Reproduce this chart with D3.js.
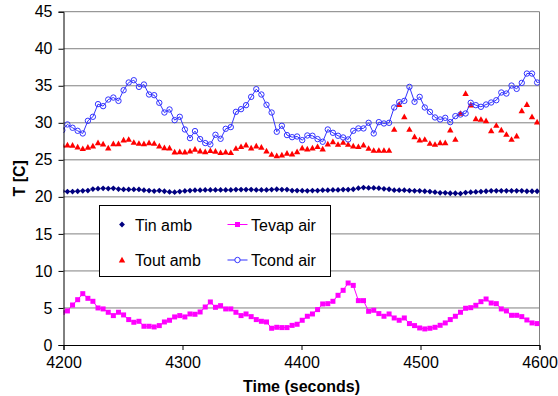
<!DOCTYPE html>
<html>
<head>
<meta charset="utf-8">
<script src="https://cdn.jsdelivr.net/npm/d3@7"></script>
<style>
  body { margin: 0; background: #fff; }
  text { font-family: "Liberation Sans", Arial, sans-serif; }
</style>
</head>
<body>
<div id="chart"></div>
<script>
// sample times (s), shared by all four series
var time = [
  4199.0, 4203.3, 4207.6, 4211.9, 4216.2, 4220.5, 4224.7, 4229.0, 4233.3, 4237.6,
  4241.9, 4246.2, 4250.5, 4254.8, 4259.1, 4263.4, 4267.6, 4271.9, 4276.2, 4280.5,
  4284.8, 4289.1, 4293.4, 4297.7, 4302.0, 4306.3, 4310.5, 4314.8, 4319.1, 4323.4,
  4327.7, 4332.0, 4336.3, 4340.6, 4344.9, 4349.2, 4353.4, 4357.7, 4362.0, 4366.3,
  4370.6, 4374.9, 4379.2, 4383.5, 4387.8, 4392.1, 4396.3, 4400.6, 4404.9, 4409.2,
  4413.5, 4417.8, 4422.1, 4426.4, 4430.7, 4435.0, 4439.2, 4443.5, 4447.8, 4452.1,
  4456.4, 4460.7, 4465.0, 4469.3, 4473.6, 4477.9, 4482.1, 4486.4, 4490.7, 4495.0,
  4499.3, 4503.6, 4507.9, 4512.2, 4516.5, 4520.8, 4525.0, 4529.3, 4533.6, 4537.9,
  4542.2, 4546.5, 4550.8, 4555.1, 4559.4, 4563.7, 4567.9, 4572.2, 4576.5, 4580.8,
  4585.1, 4589.4, 4593.7, 4598.0, 4602.3
];

var tinAmb = [
  20.75, 20.72, 20.72, 20.76, 20.81, 20.85, 21.05, 21.10, 21.15, 21.12,
  21.15, 21.05, 21.00, 21.00, 21.00, 21.00, 20.90, 20.85, 20.78, 20.85,
  20.76, 20.67, 20.63, 20.72, 20.80, 20.85, 20.90, 20.90, 20.94, 20.94,
  20.94, 20.94, 20.94, 20.94, 20.99, 20.99, 20.99, 20.99, 20.94, 20.94,
  20.94, 20.99, 21.03, 20.99, 20.99, 20.85, 20.85, 20.83, 20.81, 20.85,
  20.85, 20.90, 20.90, 20.94, 20.94, 20.99, 20.99, 21.03, 21.17, 21.26,
  21.21, 21.21, 21.17, 21.08, 21.03, 20.90, 20.90, 20.90, 20.85, 20.81,
  20.81, 20.76, 20.72, 20.63, 20.54, 20.54, 20.49, 20.49, 20.45, 20.58,
  20.63, 20.67, 20.72, 20.76, 20.81, 20.81, 20.81, 20.81, 20.81, 20.81,
  20.81, 20.76, 20.76, 20.76, 20.76
];

var toutAmb = [
  27.00, 26.99, 26.95, 26.72, 26.50, 26.68, 26.86, 27.30, 27.12, 26.59,
  27.17, 27.17, 27.66, 27.75, 27.35, 27.21, 27.17, 27.30, 27.21, 26.86,
  26.63, 26.59, 26.05, 26.09, 26.05, 26.18, 26.41, 26.18, 26.09, 26.23,
  26.14, 25.96, 26.05, 25.96, 26.54, 26.77, 26.99, 26.59, 26.86, 26.68,
  26.18, 25.73, 25.55, 25.64, 25.87, 25.78, 26.09, 26.59, 26.45, 26.59,
  26.77, 26.45, 27.12, 27.44, 27.08, 27.35, 27.08, 26.86, 26.77, 26.99,
  26.54, 26.27, 26.27, 26.27, 26.27, 29.10, 32.47, 30.81, 29.10, 28.11,
  27.66, 27.75, 27.21, 27.08, 27.30, 27.30, 29.01, 27.75, 31.26, 33.95,
  32.38, 30.54, 30.45, 30.27, 28.92, 29.64, 29.01, 28.43, 27.75, 28.20,
  31.62, 32.47, 30.81, 30.09, 30.00
];

var tevapAir = [
  4.40, 4.60, 5.40, 6.12, 6.93, 6.30, 5.90, 5.00, 4.87, 4.42,
  3.97, 4.42, 4.06, 3.43, 3.07, 3.20, 2.53, 2.53, 2.44, 2.62,
  3.11, 3.34, 3.79, 3.97, 3.79, 4.19, 4.15, 4.46, 5.13, 5.81,
  5.09, 5.31, 4.87, 4.87, 4.42, 3.97, 4.19, 3.83, 3.43, 3.20,
  3.11, 2.26, 2.39, 2.35, 2.35, 2.65, 2.80, 3.34, 3.88, 4.19,
  4.78, 5.54, 5.58, 5.90, 6.71, 7.38, 8.37, 8.05, 5.99, 5.99,
  4.55, 4.69, 4.24, 3.88, 4.19, 3.65, 3.34, 3.65, 2.89, 2.62,
  2.30, 2.17, 2.26, 2.39, 2.66, 2.98, 3.43, 3.88, 4.42, 4.96,
  5.04, 5.36, 5.85, 6.21, 5.67, 5.58, 4.87, 4.60, 4.01, 4.01,
  3.83, 3.38, 2.98, 2.89, 2.60
];

var tcondAir = [
  29.00, 29.78, 29.33, 28.92, 28.56, 30.27, 30.81, 32.52, 32.25, 33.14,
  33.41, 32.96, 34.40, 35.44, 35.75, 34.85, 35.17, 33.82, 33.73, 32.70,
  31.39, 31.80, 30.36, 30.81, 29.10, 27.93, 28.88, 27.80, 27.26, 27.08,
  28.38, 27.84, 29.19, 29.42, 31.48, 31.84, 32.38, 33.50, 34.54, 33.82,
  32.43, 31.39, 28.79, 29.60, 28.34, 28.06, 28.15, 27.66, 28.29, 28.25,
  27.80, 27.44, 29.10, 28.65, 28.25, 28.02, 27.75, 28.92, 29.24, 29.24,
  30.00, 28.56, 30.09, 29.91, 30.00, 32.07, 32.79, 32.96, 34.85, 32.83,
  33.50, 32.07, 31.48, 30.72, 30.45, 30.67, 30.09, 30.90, 31.12, 31.26,
  32.70, 32.38, 32.16, 32.47, 32.74, 33.05, 34.09, 33.95, 35.03, 34.58,
  35.39, 36.65, 36.65, 35.44, 35.60
];

var xTicks = [4200, 4300, 4400, 4500, 4600];
var yTicks = [0, 5, 10, 15, 20, 25, 30, 35, 40, 45];

var W = 558, H = 396;
var plotL = 63.5, plotR = 539.5, plotT = 11.7, plotB = 345;

var svg = d3.select("#chart").append("svg")
    .attr("width", W)
    .attr("height", H);

svg.append("rect").attr("width", W).attr("height", H).attr("fill", "#fff");

var x = d3.scaleLinear().domain([4200, 4600]).range([plotL, plotR]);
var y = d3.scaleLinear().domain([0, 45]).range([plotB, plotT]);

svg.append("clipPath").attr("id", "plotclip")
  .append("rect")
    .attr("x", plotL).attr("y", plotT)
    .attr("width", plotR - plotL).attr("height", plotB - plotT);

// gridlines
svg.append("g")
  .selectAll("line")
  .data(yTicks.slice(1))
  .enter().append("line")
    .attr("x1", plotL).attr("x2", plotR)
    .attr("y1", function(d) { return y(d); })
    .attr("y2", function(d) { return y(d); })
    .attr("stroke", "#808080")
    .attr("stroke-width", 1);

// right border of plot area
svg.append("line")
  .attr("x1", plotR).attr("x2", plotR)
  .attr("y1", plotT).attr("y2", plotB)
  .attr("stroke", "#808080");

var plot = svg.append("g").attr("clip-path", "url(#plotclip)");

function pts(vals) {
  return vals.map(function(v, i) { return [time[i], v]; });
}

var line = d3.line()
  .x(function(d) { return x(d[0]); })
  .y(function(d) { return y(d[1]); });

var diamond = "M0,-2.9L2.9,0L0,2.9L-2.9,0Z";
var triangle = "M0,-3.3L3.2,2.4L-3.2,2.4Z";

// Tin amb
plot.append("g").selectAll("path")
  .data(pts(tinAmb))
  .enter().append("path")
    .attr("d", diamond)
    .attr("transform", function(d) { return "translate(" + x(d[0]) + "," + y(d[1]) + ")"; })
    .attr("fill", "#000080");

// Tout amb
plot.append("g").selectAll("path")
  .data(pts(toutAmb))
  .enter().append("path")
    .attr("d", triangle)
    .attr("transform", function(d) { return "translate(" + x(d[0]) + "," + y(d[1]) + ")"; })
    .attr("fill", "#ff0000");

// Tevap air
plot.append("path")
  .datum(pts(tevapAir))
  .attr("d", line)
  .attr("fill", "none")
  .attr("stroke", "#ff00ff")
  .attr("stroke-width", 1);

plot.append("g").selectAll("rect")
  .data(pts(tevapAir))
  .enter().append("rect")
    .attr("x", function(d) { return x(d[0]) - 2.5; })
    .attr("y", function(d) { return y(d[1]) - 2.5; })
    .attr("width", 5).attr("height", 5)
    .attr("fill", "#ff00ff");

// Tcond air
plot.append("path")
  .datum(pts(tcondAir))
  .attr("d", line)
  .attr("fill", "none")
  .attr("stroke", "#3333ff")
  .attr("stroke-width", 1);

plot.append("g").selectAll("circle")
  .data(pts(tcondAir))
  .enter().append("circle")
    .attr("cx", function(d) { return x(d[0]); })
    .attr("cy", function(d) { return y(d[1]); })
    .attr("r", 2.7)
    .attr("fill", "none")
    .attr("stroke", "#3333ff")
    .attr("stroke-width", 1);

// axes
var xAxis = svg.append("g")
  .attr("transform", "translate(0," + plotB + ")")
  .call(d3.axisBottom(x).tickValues(xTicks).tickSize(5).tickPadding(7).tickFormat(d3.format("d")));

var yAxis = svg.append("g")
  .attr("transform", "translate(" + plotL + ",0)")
  .call(d3.axisLeft(y).tickValues(yTicks).tickSize(5).tickPadding(6));

[xAxis, yAxis].forEach(function(a) {
  a.select(".domain").attr("stroke", "#000").attr("stroke-width", 1);
  a.selectAll(".tick line").attr("stroke", "#000");
  a.selectAll("text")
    .attr("fill", "#000")
    .style("font-size", "16px")
    .style("font-family", "'Liberation Sans', Arial, sans-serif");
});

svg.append("text")
  .attr("x", (plotL + plotR) / 2)
  .attr("y", 392)
  .attr("text-anchor", "middle")
  .style("font-size", "16px")
  .style("font-weight", "bold")
  .text("Time (seconds)");

svg.append("text")
  .attr("transform", "translate(25," + (plotT + plotB) / 2 + ") rotate(-90)")
  .attr("text-anchor", "middle")
  .style("font-size", "16px")
  .style("font-weight", "bold")
  .text("T [C]");

// legend
var legend = svg.append("g");
legend.append("rect")
  .attr("x", 99.5).attr("y", 205.5)
  .attr("width", 231).attr("height", 71)
  .attr("fill", "#fff")
  .attr("stroke", "#000")
  .attr("stroke-width", 1);

var legendItems = [
  {name: "Tin amb", col: 0, row: 0},
  {name: "Tevap air", col: 1, row: 0},
  {name: "Tout amb", col: 0, row: 1},
  {name: "Tcond air", col: 1, row: 1}
];

legendItems.forEach(function(it) {
  var ly = 224.5 + it.row * 35.5;
  var mx = it.col === 0 ? 122 : 237.5;
  var tx = it.col === 0 ? 135 : 251;
  var g = legend.append("g");
  if (it.name === "Tin amb") {
    g.append("path").attr("d", diamond).attr("fill", "#000080")
      .attr("transform", "translate(" + mx + "," + ly + ")");
  } else if (it.name === "Tout amb") {
    g.append("path").attr("d", triangle).attr("fill", "#ff0000")
      .attr("transform", "translate(" + mx + "," + ly + ")");
  } else if (it.name === "Tevap air") {
    g.append("line").attr("x1", mx - 10).attr("x2", mx + 10).attr("y1", ly).attr("y2", ly)
      .attr("stroke", "#ff00ff");
    g.append("rect").attr("x", mx - 2.5).attr("y", ly - 2.5).attr("width", 5).attr("height", 5)
      .attr("fill", "#ff00ff");
  } else {
    g.append("line").attr("x1", mx - 10).attr("x2", mx + 10).attr("y1", ly).attr("y2", ly)
      .attr("stroke", "#3333ff");
    g.append("circle").attr("cx", mx).attr("cy", ly).attr("r", 2.7)
      .attr("fill", "#fff").attr("stroke", "#3333ff");
  }
  g.append("text")
    .attr("x", tx).attr("y", ly + 6)
    .style("font-size", "16px")
    .text(it.name);
});
</script>
</body>
</html>
